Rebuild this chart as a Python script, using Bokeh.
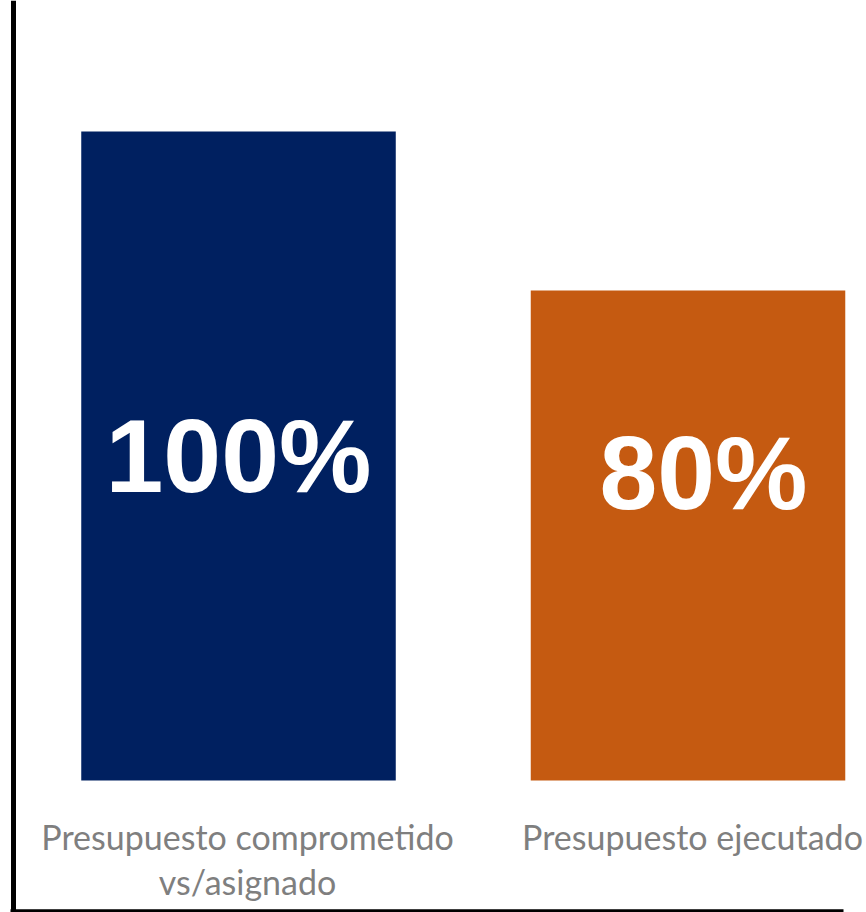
from bokeh.plotting import figure
from bokeh.models import Range1d, ColumnDataSource, Span
from bokeh.core.properties import value
from bokeh.embed import file_html
from bokeh.resources import INLINE

# ---- data ----
categories = ["Presupuesto comprometido\nvs/asignado", "Presupuesto ejecutado"]
values = [100, 80]
value_labels = ["100%", "80%"]
colors = ["#002060", "#C55A11"]
baseline = 18.36  # value where bars start (bars are drawn from this level)

# ---- layout (pixel geometry of the figure) ----
W, H = 866, 912
X0, KX = -0.5295, 449.5          # x data start, pixels per category
Y0, KY = 1.76, 7.95              # y data start, pixels per unit


def x_at(px):
    return X0 + px / KX


def y_at(py):
    return Y0 + (H - py) / KY


p = figure(width=W, height=H, output_backend="svg", toolbar_location=None,
           x_range=Range1d(X0, X0 + W / KX), y_range=Range1d(Y0, Y0 + H / KY),
           min_border=0, outline_line_color=None)
p.xaxis.visible = False
p.yaxis.visible = False
p.xgrid.visible = False
p.ygrid.visible = False
p.background_fill_color = "white"
p.border_fill_color = "white"

xs = list(range(len(values)))
src = ColumnDataSource(dict(x=xs, top=values, color=colors))
p.vbar(x="x", top="top", bottom=baseline, width=0.6997, fill_color="color",
       line_color=None, source=src)

# value labels inside bars
lab_dx = [0.0, x_at(703) - x_at(687.5)]
lab_x = [xs[i] + lab_dx[i] for i in range(len(xs))]
lab_y = [y_at(455), y_at(472)]
p.text(x=lab_x, y=lab_y, text=value_labels, text_color="white",
       text_font=value("Liberation Sans"), text_font_style="bold",
       text_font_size="104px", text_align="center", text_baseline="alphabetic")

# category labels below bars
cat_offsets = [x_at(247) - x_at(238), x_at(692) - x_at(687.5)]
tx, ty, tt = [], [], []
for i, lab in enumerate(categories):
    for j, line in enumerate(lab.split("\n")):
        tx.append(xs[i] + cat_offsets[i])
        ty.append(y_at(836 + 45 * j))
        tt.append(line)
p.text(x=tx, y=ty, text=tt, text_color="#7F7F7F", text_font=value("Lato"),
       text_font_size="34px", text_align="center", text_baseline="alphabetic")

# frame lines (left and bottom)
p.add_layout(Span(location=x_at(13), dimension="height", line_color="black",
                  line_width=5))
p.segment(x0=[x_at(10)], y0=[y_at(910.5)], x1=[x_at(843)], y1=[y_at(910.5)],
          line_color="black", line_width=3.5)

open("out.html", "w").write(file_html(p, INLINE))
